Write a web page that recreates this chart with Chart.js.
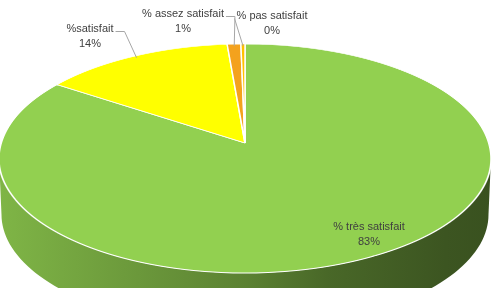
<!DOCTYPE html>
<html>
<head>
<meta charset="utf-8">
<style>
  html, body { margin: 0; padding: 0; background: #fff; }
  canvas { display: block; }
</style>
<script src="https://cdn.jsdelivr.net/npm/chart.js@4"></script>
</head>
<body>
<canvas id="pie" width="495" height="288"></canvas>
<script>
const categories = ['% très satisfait', '%satisfait', '% assez satisfait', '% pas satisfait'];
const shares = [83, 14, 1, 0.3];
const sliceColors = ['#92d050', '#ffff00', '#f4a21d', '#ffc000'];

// label layout: centre of first text line, leader elbow (null = no leader)
const labelX = [369, 90, 183, 272];
const labelY = [227, 29, 14, 16];
const leaderElbow = [null, 9, 9, 0];

// tilted disc seen in perspective, plus extrusion depth
const view = { cx: 245, apexY: 143, A: 243.7, B: 112.4, c: -0.1354, depth: 56, bottomShrink: 0.99 };

function project(u, v) {
  const w = 1 + view.c * v;
  return { x: view.cx + view.A * u / w, y: view.apexY + view.B * v / w };
}

function shade(hex, f) {
  const n = parseInt(hex.slice(1), 16);
  const r = Math.round(((n >> 16) & 255) * f);
  const g = Math.round(((n >> 8) & 255) * f);
  const b = Math.round((n & 255) * f);
  return `rgb(${r},${g},${b})`;
}

function sideFill(ctx, chart, color) {
  const grad = ctx.createLinearGradient(0, 0, chart.width, 0);
  grad.addColorStop(0, shade(color, 0.87));
  grad.addColorStop(0.5, shade(color, 0.62));
  grad.addColorStop(0.66, shade(color, 0.5));
  grad.addColorStop(0.9, shade(color, 0.41));
  grad.addColorStop(1, shade(color, 0.39));
  return grad;
}

function sideSegment(ctx, a, b, fill) {
  const n = 90;
  const top = [];
  for (let j = 0; j <= n; j++) {
    const th = a + (b - a) * j / n;
    top.push(project(Math.cos(th), Math.sin(th)));
  }
  ctx.beginPath();
  top.forEach((p, j) => (j ? ctx.lineTo(p.x, p.y) : ctx.moveTo(p.x, p.y)));
  for (let j = n; j >= 0; j--) {
    const p = top[j];
    ctx.lineTo(view.cx + (p.x - view.cx) * view.bottomShrink, p.y + view.depth);
  }
  ctx.closePath();
  ctx.fillStyle = fill;
  ctx.fill();
}

function drawSide(chart, meta) {
  const ctx = chart.ctx;
  const TAU = Math.PI * 2;
  const vis0 = Math.asin(-view.c);
  const vis1 = Math.PI - vis0;
  meta.data.forEach((arc, i) => {
    for (let k = -1; k <= 1; k++) {
      const a = Math.max(arc.startAngle + k * TAU, vis0);
      const b = Math.min(arc.endAngle + k * TAU, vis1);
      if (b > a) sideSegment(ctx, a, b, sideFill(ctx, chart, sliceColors[i]));
    }
  });
}

// draw the flat Chart.js pie row by row, each row with its own perspective scale
function drawTop(chart, meta) {
  const ctx = chart.ctx;
  const dpr = chart.currentDevicePixelRatio;
  const arc0 = meta.data[0];
  const X0 = arc0.x, Y0 = arc0.y, R = arc0.outerRadius;
  const yTop = Math.floor(view.apexY - view.B / (1 - view.c)) - 2;
  const yBot = Math.ceil(view.apexY + view.B / (1 + view.c)) + 2;
  for (let y = yTop; y < yBot; y++) {
    const t = y + 0.5 - view.apexY;
    const v = t / (view.B - view.c * t);
    const w = 1 + view.c * v;
    const sx = view.A / (w * R);
    const sy = view.B / (w * w * R);
    ctx.save();
    ctx.setTransform(dpr, 0, 0, dpr, 0, 0);
    ctx.beginPath();
    ctx.rect(0, y, chart.width, 1);
    ctx.clip();
    ctx.setTransform(dpr * sx, 0, 0, dpr * sy, dpr * (view.cx - sx * X0), dpr * (y + 0.5 - sy * (Y0 + R * v)));
    meta.controller.draw();
    ctx.restore();
  }
}

function drawLabels(chart) {
  const ctx = chart.ctx;
  const meta = chart.getDatasetMeta(0);
  ctx.save();
  ctx.font = '11px "Liberation Sans", Arial, sans-serif';
  ctx.textAlign = 'center';
  ctx.textBaseline = 'middle';
  meta.data.forEach((arc, i) => {
    const x = labelX[i], y = labelY[i];
    const name = categories[i];
    const pct = Math.round(shares[i]) + '%';
    if (leaderElbow[i] !== null) {
      const mid = (arc.startAngle + arc.endAngle) / 2;
      const p = project(0.98 * Math.cos(mid), 0.98 * Math.sin(mid));
      const w = ctx.measureText(name).width;
      const right = p.x > x;
      const sx = right ? x + w / 2 + 2 : x - w / 2 - 2;
      const sy = y + 2.5;
      ctx.strokeStyle = '#a6a6a6';
      ctx.lineWidth = 1;
      ctx.beginPath();
      ctx.moveTo(sx, sy);
      ctx.lineTo(sx + (right ? 1 : -1) * leaderElbow[i], sy);
      ctx.lineTo(p.x, p.y);
      ctx.stroke();
    }
    ctx.fillStyle = '#404040';
    ctx.fillText(name, x, y);
    ctx.fillText(pct, x, y + 15);
  });
  ctx.restore();
}

const tilt3d = {
  id: 'tilt3d',
  beforeDatasetsDraw(chart) {
    const meta = chart.getDatasetMeta(0);
    drawSide(chart, meta);
    drawTop(chart, meta);
    return false;
  },
  afterDraw(chart) {
    drawLabels(chart);
  }
};

new Chart(document.getElementById('pie'), {
  type: 'pie',
  data: {
    labels: categories,
    datasets: [{
      data: shares,
      backgroundColor: sliceColors,
      borderColor: '#ffffff',
      borderWidth: 1.6,
      radius: 244
    }]
  },
  options: {
    responsive: false,
    animation: false,
    events: [],
    layout: { padding: 0 },
    plugins: {
      legend: { display: false },
      tooltip: { enabled: false }
    }
  },
  plugins: [tilt3d]
});
</script>
</body>
</html>
